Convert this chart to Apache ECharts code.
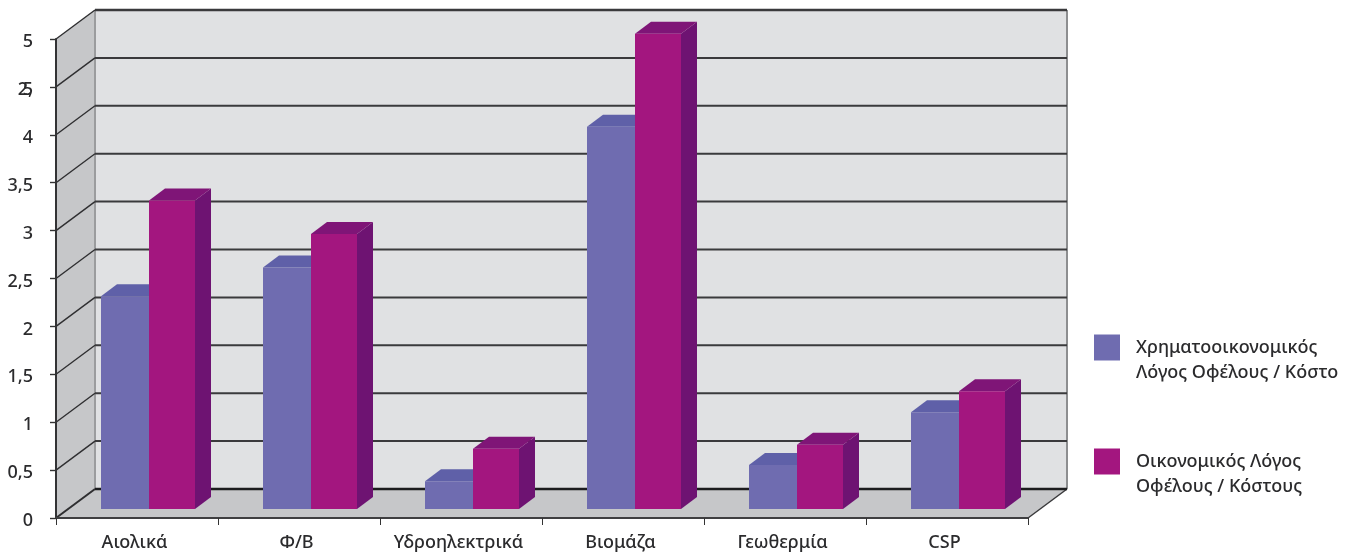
<!DOCTYPE html>
<html>
<head>
<meta charset="utf-8">
<style>html,body{margin:0;padding:0;background:#fff}#c{width:1351px;height:556px}</style>
<script src="https://cdn.jsdelivr.net/npm/echarts@6/dist/echarts.min.js"></script>
</head>
<body>
<div id="c"></div>
<script>
// Benefit / cost ratios per renewable technology
const categories = ['Αιολικά', 'Φ/Β', 'Υδροηλεκτρικά', 'Βιομάζα', 'Γεωθερμία', 'CSP'];
const financialRatio = [2.22, 2.52, 0.29, 3.99, 0.46, 1.01];
const economicRatio = [3.22, 2.87, 0.63, 4.96, 0.67, 1.23];
const seriesNames = ['Χρηματοοικονομικός\nΛόγος Οφέλους / Κόστο', 'Οικονομικός Λόγος\nΟφέλους / Κόστους'];
const yTicks = [0, 0.5, 1, 1.5, 2, 2.5, 3, 3.5, 4, 4.5, 5];

// Oblique projection of the box: how far the back wall sits from the front plane
const WALL_DX = 39, WALL_DY = -29;
// Bars stand part-way into the box and have this much depth of their own
const BAR_LIFT = 9, BAR_DX = 16, BAR_DY = -12;

const quad = (pts, fill) => ({ type: 'polygon', shape: { points: pts }, style: { fill, stroke: null } });
const seg = (x1, y1, x2, y2, stroke, lineWidth) => ({
  type: 'line', shape: { x1, y1, x2, y2 }, style: { stroke, lineWidth }
});

function renderBox(params, api) {
  const [l, b] = api.coord([0, 0]);
  const size = api.size([1, 0]);
  const left = l - size[0] / 2, right = left + size[0] * categories.length;
  const top = api.coord([0, 5])[1];
  const dx = WALL_DX, dy = WALL_DY;
  return {
    type: 'group',
    children: [
      quad([[left + dx, top + dy], [right + dx, top + dy], [right + dx, b + dy], [left + dx, b + dy]], '#e0e1e3'),
      quad([[left, top], [left + dx, top + dy], [left + dx, b + dy], [left, b]], '#c6c7c9'),
      quad([[left, b], [left + dx, b + dy], [right + dx, b + dy], [right, b]], '#c6c7c9'),
      seg(left + dx, top + dy, left + dx, b + dy, '#9b9c9e', 2),
      seg(right + dx, top + dy, right + dx, b + dy, '#8d8e90', 2),
      seg(right, b, right + dx, b + dy, '#3a3a3c', 1.5)
    ]
  };
}

function renderGridLine(params, api) {
  const v = api.value(0);
  const [l, y] = api.coord([0, v]);
  const size = api.size([1, 0]);
  const left = l - size[0] / 2, right = left + size[0] * categories.length;
  const w = (v === 0 || v === 5) ? 2.5 : 2;
  return {
    type: 'group',
    children: [
      seg(left, y, left + WALL_DX, y + WALL_DY, '#2f2f31', v === 0 ? 2 : 1.4),
      seg(left + WALL_DX, y + WALL_DY, right + WALL_DX, y + WALL_DY, v === 0 ? '#1c1c1e' : '#3a3a3c', w)
    ]
  };
}

function barRenderer(fromBand, widthBand, front, topFace, sideFace) {
  return function (params, api) {
    const band = api.size([1, 0])[0];
    const c = api.value(0);
    const [cx, yTop] = api.coord([c, api.value(1)]);
    const yBase = api.coord([c, 0])[1];
    const x0 = cx + fromBand * band, x1 = x0 + widthBand * band;
    const t = yTop - BAR_LIFT, b = yBase - BAR_LIFT;
    return {
      type: 'group',
      children: [
        quad([[x1, t], [x1 + BAR_DX, t + BAR_DY], [x1 + BAR_DX, b + BAR_DY], [x1, b]], sideFace),
        quad([[x0, t], [x0 + BAR_DX, t + BAR_DY], [x1 + BAR_DX, t + BAR_DY], [x1, t]], topFace),
        quad([[x0, t], [x1, t], [x1, b], [x0, b]], front)
      ]
    };
  };
}

const pairs = vals => vals.map((v, i) => [i, v]);
const chart = echarts.init(document.getElementById('c'));
const fontFamily = '"Noto Sans", sans-serif';
const inkColor = '#2b2b2d';
// Scale labels sit slightly below their ticks
const yLabelStyle = {
  color: inkColor, fontFamily, fontSize: 18, fontWeight: 500, margin: 23,
  verticalAlign: 'top', lineHeight: 6
};

chart.setOption({
  animation: false,
  backgroundColor: '#fff',
  grid: { left: 56, right: 323, top: 39, bottom: 38 },
  xAxis: {
    type: 'category',
    data: categories,
    axisLine: { lineStyle: { color: '#3f3f41', width: 2 } },
    axisTick: { show: true, interval: 0, length: 7, lineStyle: { color: '#333', width: 1 } },
    axisLabel: { interval: 0, color: inkColor, fontFamily, fontSize: 18, fontWeight: 500, margin: 16, padding: [0, 5, 0, 0] },
    z: 5
  },
  yAxis: [
    {
      type: 'value', min: 0, max: 5, interval: 0.5,
      axisLine: { show: true, lineStyle: { color: '#333335', width: 2 } },
      axisTick: { show: true, length: 6, lineStyle: { color: '#333', width: 1.4 } },
      axisLabel: {
        ...yLabelStyle,
        formatter: v => v === 4.5 ? '5' : String(v).replace('.', ',')
      },
      splitLine: { show: false },
      z: 5
    },
    {
      // Overprinted glyphs that sit on the 4,5 position of the scale
      type: 'value', min: 0, max: 5, interval: 0.5, position: 'left',
      axisLine: { show: false }, axisTick: { show: false }, splitLine: { show: false },
      axisLabel: {
        ...yLabelStyle,
        formatter: v => v === 4.5 ? '2,' : ''
      }
    }
  ],
  legend: {
    orient: 'vertical',
    left: 1094,
    top: 310,
    padding: 0,
    icon: 'rect',
    itemWidth: 26,
    itemHeight: 26,
    itemGap: 39,
    selectedMode: false,
    data: seriesNames,
    // The leading blank line centres each swatch on the first line of its caption
    formatter: name => '\n' + name,
    textStyle: { color: inkColor, fontFamily, fontSize: 18, fontWeight: 500, lineHeight: 25, padding: [0, 0, 0, 11] }
  },
  series: [
    { type: 'custom', name: 'box', silent: true, z: 1, renderItem: renderBox, data: [[0]], encode: { x: 0 } },
    { type: 'custom', name: 'gridlines', silent: true, z: 2, renderItem: renderGridLine,
      data: yTicks.map(v => [v]), encode: { y: 0 } },
    { type: 'custom', name: seriesNames[0], z: 3, silent: true,
      itemStyle: { color: '#6f6cb0' }, encode: { x: 0, y: 1 },
      renderItem: barRenderer(-36 / 162, 48 / 162, '#6f6cb0', '#5f60a8', '#5f60a8'),
      data: pairs(financialRatio) },
    { type: 'custom', name: seriesNames[1], z: 4, silent: true,
      itemStyle: { color: '#a3167f' }, encode: { x: 0, y: 1 },
      renderItem: barRenderer(12 / 162, 46 / 162, '#a3167f', '#7f1577', '#6e1372'),
      data: pairs(economicRatio) }
  ]
});
</script>
</body>
</html>
